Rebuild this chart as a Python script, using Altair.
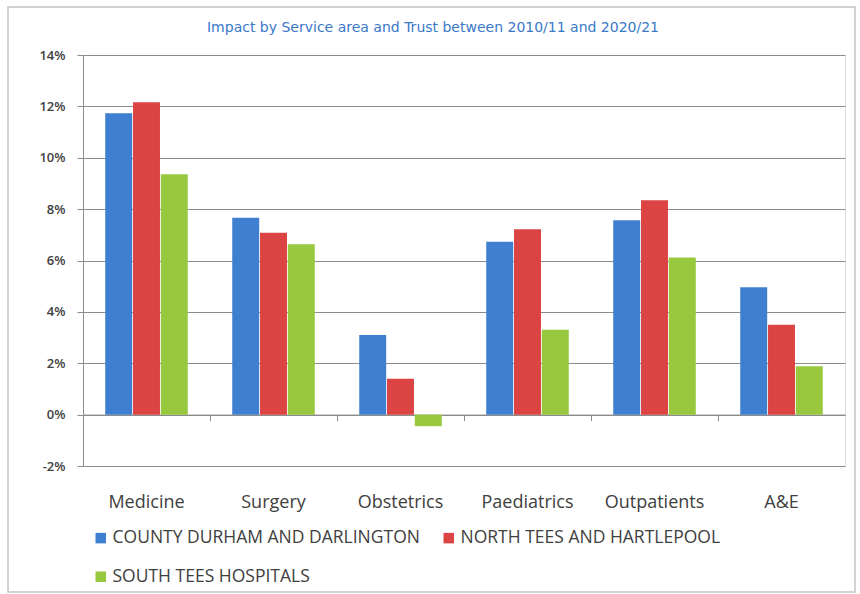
import altair as alt
import pandas as pd

categories = ["Medicine", "Surgery", "Obstetrics", "Paediatrics", "Outpatients", "A&E"]
trusts = ["COUNTY DURHAM AND DARLINGTON", "NORTH TEES AND HARTLEPOOL", "SOUTH TEES HOSPITALS"]
county_durham = [0.1173, 0.0766, 0.0310, 0.0673, 0.0757, 0.0496]
north_tees = [0.1216, 0.0708, 0.0140, 0.0722, 0.0835, 0.0350]
south_tees = [0.0936, 0.0663, -0.0045, 0.0330, 0.0612, 0.0188]
colors = ["#3f7fd0", "#dc4444", "#98c83e"]
y_ticks = [-0.02, 0, 0.02, 0.04, 0.06, 0.08, 0.10, 0.12, 0.14]
title_text = "Impact by Service area and Trust between 2010/11 and 2020/21"

rows = []
for series, vals in zip(trusts, [county_durham, north_tees, south_tees]):
    for c, v in zip(categories, vals):
        rows.append({"category": c, "trust": series, "value": v})
df = pd.DataFrame(rows)

W, H = 762, 411
font = "Open Sans"
text_col = "#404040"

bars = alt.Chart(df).mark_bar().encode(
    x=alt.X("category:N", sort=categories,
            scale=alt.Scale(paddingInner=0, paddingOuter=0),
            axis=alt.Axis(title=None, offset=-51.4, bandPosition=0, domain=True,
                          domainColor="#8c8c8c", ticks=True, tickColor="#8c8c8c",
                          tickSize=6, labelPadding=73, labelFont=font, labelFontSize=18,
                          labelColor=text_col, labelAngle=0, grid=False)),
    xOffset=alt.XOffset("trust:N", sort=trusts,
                        scale=alt.Scale(paddingInner=0.03, paddingOuter=0.8)),
    y=alt.Y("value:Q",
            scale=alt.Scale(domain=[-0.02, 0.14], nice=False, zero=False),
            axis=alt.Axis(title=None, values=y_ticks, format=".0%", grid=True,
                          labelExpr="replace(datum.label, '\u2212', '-')",
                          gridColor="#8c8c8c", gridWidth=1, domain=True,
                          domainColor="#8c8c8c", ticks=True, tickColor="#8c8c8c",
                          tickSize=6, labelPadding=12, labelFont=font,
                          labelFontSize=13, labelFontWeight=600, labelColor=text_col)),
    color=alt.Color("trust:N", sort=trusts,
                    scale=alt.Scale(domain=trusts, range=colors),
                    legend=alt.Legend(title=None, orient="none", legendX=9, legendY=474,
                                      columns=2, direction="horizontal",
                                      symbolType="square", symbolSize=110,
                                      symbolStrokeWidth=0, labelFont=font,
                                      labelFontSize=17.5, labelColor=text_col,
                                      labelLimit=400, columnPadding=20,
                                      rowPadding=20, labelOffset=3, padding=0)),
)

frame = alt.Chart(pd.DataFrame({"a": [0]})).mark_rect(
    fill=None, stroke="#c4c4c4", strokeWidth=1.5
).encode(
    x=alt.value(-75), x2=alt.value(772), y=alt.value(-48), y2=alt.value(537)
)

title = alt.Chart(pd.DataFrame({"t": [title_text]})).mark_text(
    font="DejaVu Sans", fontSize=14, color="#3a78c8", align="center", baseline="middle"
).encode(
    text="t:N", x=alt.value(350), y=alt.value(-27)
)

chart = alt.layer(frame, bars, title).properties(
    width=W, height=H,
    padding={"left": 83, "top": 55, "right": 15, "bottom": 128},
    autosize=alt.AutoSizeParams(type="none"),
).configure_view(stroke=None).configure(background="white")

chart.save("out.html", embed_options={"renderer": "svg", "actions": False})
